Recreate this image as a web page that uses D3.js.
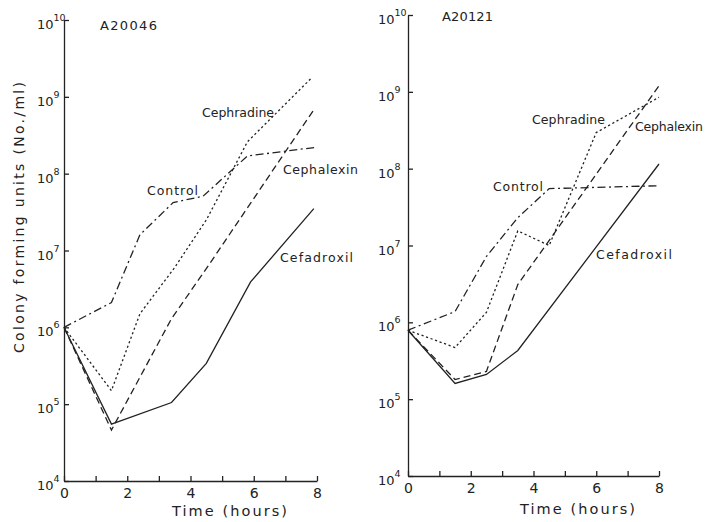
<!DOCTYPE html>
<html>
<head>
<meta charset="utf-8">
<script src="https://cdn.jsdelivr.net/npm/d3@7"></script>
<style>
  html, body { margin: 0; padding: 0; background: #ffffff; }
  svg { display: block; }
  text { font-family: "DejaVu Sans", sans-serif; fill: #222; }
</style>
</head>
<body>
<svg id="chart" width="712" height="522"></svg>
<script>
// ---------- data ----------
const hourTicks = [0, 1, 2, 3, 4, 5, 6, 7, 8];
const hourLabels = [0, 2, 4, 6, 8];
const decadeExponents = [4, 5, 6, 7, 8, 9, 10];

// Panel A20046
const a20046ControlT    = [0, 1.5, 2.4, 3.45, 4.4, 5.8, 7.95];
const a20046ControlV    = [1.0e6, 2.1e6, 1.6e7, 4.2e7, 5.1e7, 1.7e8, 2.2e8];
const a20046CephradineT = [0, 1.5, 2.4, 3.5, 4.5, 5.8, 7.85];
const a20046CephradineV = [1.0e6, 1.5e5, 1.5e6, 6.0e6, 2.5e7, 2.6e8, 1.8e9];
const a20046CephalexinT = [0, 1.5, 3.4, 4.5, 7.9];
const a20046CephalexinV = [1.0e6, 4.6e4, 1.3e6, 5.8e6, 6.8e8];
const a20046CefadroxilT = [0, 1.5, 3.4, 4.5, 5.9, 7.9];
const a20046CefadroxilV = [1.0e6, 5.5e4, 1.05e5, 3.4e5, 3.9e6, 3.5e7];

// Panel A20121
const a20121ControlT    = [0, 1.5, 2.5, 3.5, 4.5, 8];
const a20121ControlV    = [7.9e5, 1.38e6, 7.2e6, 2.3e7, 5.5e7, 6.0e7];
const a20121CephradineT = [0, 1.5, 2.5, 3.5, 4.5, 6, 8];
const a20121CephradineV = [7.9e5, 4.7e5, 1.35e6, 1.55e7, 1.0e7, 2.95e8, 8.5e8];
const a20121CephalexinT = [0, 1.5, 2.5, 3.5, 8];
const a20121CephalexinV = [7.9e5, 1.8e5, 2.3e5, 3.1e6, 1.2e9];
const a20121CefadroxilT = [0, 1.5, 2.5, 3.5, 8];
const a20121CefadroxilV = [7.9e5, 1.6e5, 2.1e5, 4.3e5, 1.15e8];

const drugNames = ["Control", "Cephradine", "Cephalexin", "Cefadroxil"];

// ---------- drawing ----------
const svg = d3.select("#chart");
const ink = "#222";
const dashes = {
  "Control": "8,3.5,2,3.5",
  "Cephradine": "2.2,2.6",
  "Cephalexin": "7,4",
  "Cefadroxil": null
};

function zip(t, v) { return t.map((d, i) => ({ t: d, v: v[i] })); }

const panels = [
  {
    title: "A20046",
    x: d3.scaleLinear().domain([0, 8]).range([64, 317]),
    y: d3.scaleLog().domain([1e4, 1e10]).range([481, 20]),
    series: {
      "Control": zip(a20046ControlT, a20046ControlV),
      "Cephradine": zip(a20046CephradineT, a20046CephradineV),
      "Cephalexin": zip(a20046CephalexinT, a20046CephalexinV),
      "Cefadroxil": zip(a20046CefadroxilT, a20046CefadroxilV)
    },
    titlePos: [100, 30, 57],
    labels: {
      "Cephradine": [202, 117, 72],
      "Control": [147, 195, 51],
      "Cephalexin": [283, 174, 75],
      "Cefadroxil": [280, 262, 73]
    },
    xTitle: [172, 516, 115],
    tickLabelX: 37
  },
  {
    title: "A20121",
    x: d3.scaleLinear().domain([0, 8]).range([408, 659]),
    y: d3.scaleLog().domain([1e4, 1e10]).range([476, 15]),
    series: {
      "Control": zip(a20121ControlT, a20121ControlV),
      "Cephradine": zip(a20121CephradineT, a20121CephradineV),
      "Cephalexin": zip(a20121CephalexinT, a20121CephalexinV),
      "Cefadroxil": zip(a20121CefadroxilT, a20121CefadroxilV)
    },
    titlePos: [442, 21, 51],
    labels: {
      "Cephradine": [532, 124, 73],
      "Control": [493, 191, 50],
      "Cephalexin": [635, 131, 68],
      "Cefadroxil": [596, 259, 76]
    },
    xTitle: [520, 514, 115],
    tickLabelX: 378
  }
];

panels.forEach(p => {
  const g = svg.append("g");
  const [y0, y1] = p.y.range();

  // x axis
  const xAxis = d3.axisBottom(p.x)
    .tickValues(hourTicks)
    .tickSizeInner(-5)
    .tickSizeOuter(0)
    .tickPadding(7)
    .tickFormat(d => hourLabels.includes(d) ? d : "");
  const gx = g.append("g").attr("transform", `translate(0,${y0})`).call(xAxis);
  gx.selectAll("text").attr("font-size", 14).attr("font-family", '"DejaVu Sans", sans-serif').attr("fill", ink);

  // y axis
  const yAxis = d3.axisLeft(p.y)
    .tickValues(decadeExponents.map(e => Math.pow(10, e)))
    .tickSizeInner(-5)
    .tickSizeOuter(0)
    .tickFormat("");
  const gy = g.append("g").attr("transform", `translate(${p.x(0)},0)`).call(yAxis);

  [gx, gy].forEach(a => {
    a.selectAll("path, line").attr("stroke", ink).attr("stroke-width", 1.3);
  });

  // decade labels 10^n
  decadeExponents.forEach(e => {
    const yy = p.y(Math.pow(10, e));
    const t = g.append("text")
      .attr("x", p.tickLabelX)
      .attr("y", yy + 9)
      .attr("font-size", 13);
    t.append("tspan").text("10");
    t.append("tspan").attr("dy", -8).attr("font-size", 9.5).text(e);
  });

  // series lines
  const line = d3.line().x(d => p.x(d.t)).y(d => p.y(d.v));
  drugNames.forEach(name => {
    g.append("path")
      .datum(p.series[name])
      .attr("d", line)
      .attr("fill", "none")
      .attr("stroke", ink)
      .attr("stroke-width", 1.3)
      .attr("stroke-dasharray", dashes[name]);
  });

  // series labels
  drugNames.forEach(name => {
    const [lx, ly, lw] = p.labels[name];
    g.append("text")
      .attr("x", lx).attr("y", ly)
      .attr("font-size", 12.5)
      .attr("textLength", lw)
      .attr("lengthAdjust", "spacing")
      .text(name);
  });

  // panel title
  g.append("text")
    .attr("x", p.titlePos[0]).attr("y", p.titlePos[1])
    .attr("font-size", 13)
    .attr("textLength", p.titlePos[2])
    .attr("lengthAdjust", "spacing")
    .text(p.title);

  // x title
  g.append("text")
    .attr("x", p.xTitle[0]).attr("y", p.xTitle[1])
    .attr("font-size", 14.5)
    .attr("textLength", p.xTitle[2])
    .attr("lengthAdjust", "spacing")
    .text("Time (hours)");
});

// y title
svg.append("text")
  .attr("transform", "translate(24,353) rotate(-90)")
  .attr("font-size", 14)
  .attr("textLength", 271)
  .attr("lengthAdjust", "spacing")
  .text("Colony forming units (No./ml)");
</script>
</body>
</html>
